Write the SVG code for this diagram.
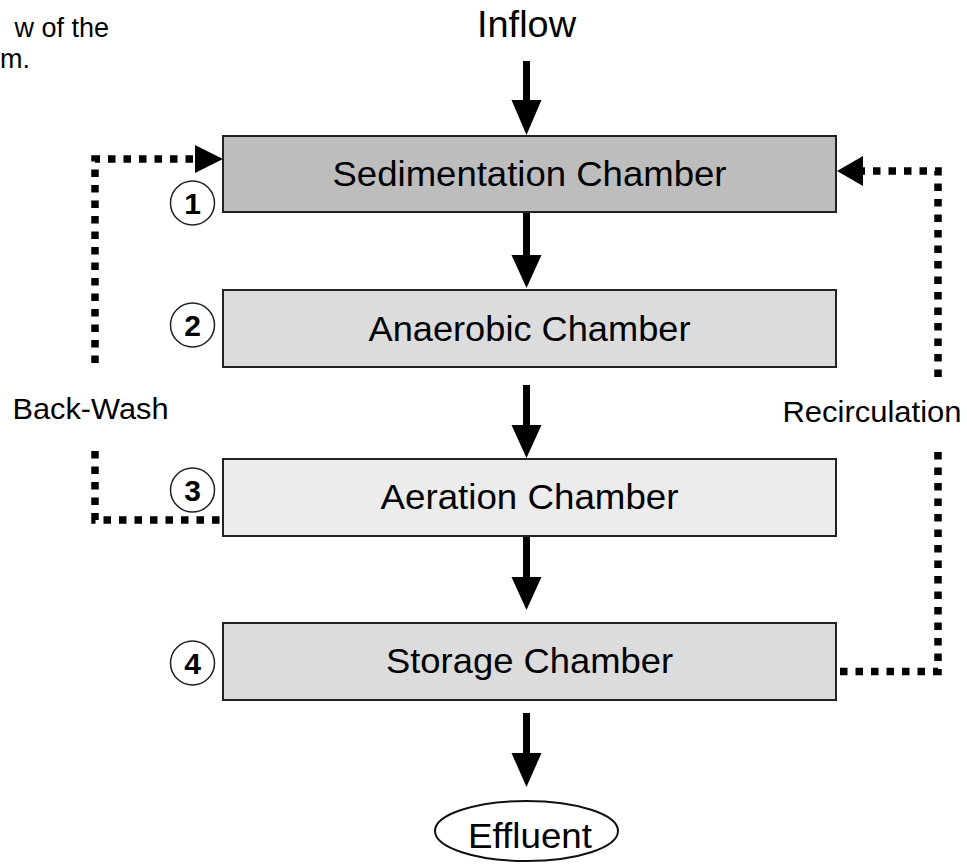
<svg xmlns="http://www.w3.org/2000/svg" width="967" height="867" viewBox="0 0 967 867">
<style>
  text { font-family: "Liberation Sans", Arial, sans-serif; fill: #000; }
  .box { stroke: #222; stroke-width: 2; }
  .lbl { font-size: 35px; text-anchor: middle; }
  .side { font-size: 30px; }
  .cap { font-size: 27px; }
  .num { font-size: 30px; font-weight: bold; text-anchor: middle; }
  .circ { fill: #fff; stroke: #222; stroke-width: 1.5; }
  .dot { fill: none; stroke: #000; stroke-width: 7.5; stroke-dasharray: 7.5 8; }
  .arr { fill: #000; }
</style>
<rect width="967" height="867" fill="#fff"/>

<text class="cap" x="109" y="37" text-anchor="end">w of the</text>
<text class="cap" x="0" y="68">m.</text>

<g id="inflow"><text x="526.5" y="37" font-size="36" text-anchor="middle" textLength="99" lengthAdjust="spacingAndGlyphs">Inflow</text></g>

<g id="sedimentation">
  <rect class="box" x="223" y="136" width="613" height="76" fill="#bdbdbd"/>
  <text class="lbl" x="529.5" y="185.5" textLength="394" lengthAdjust="spacingAndGlyphs">Sedimentation Chamber</text>
</g>
<g id="anaerobic">
  <rect class="box" x="223" y="290" width="613" height="77" fill="#dcdcdc"/>
  <text class="lbl" x="529.5" y="340.5" textLength="322" lengthAdjust="spacingAndGlyphs">Anaerobic Chamber</text>
</g>
<g id="aeration">
  <rect class="box" x="223" y="459" width="613" height="77" fill="#ececec"/>
  <text class="lbl" x="529.5" y="509" textLength="298" lengthAdjust="spacingAndGlyphs">Aeration Chamber</text>
</g>
<g id="storage">
  <rect class="box" x="223" y="623" width="613" height="77" fill="#dcdcdc"/>
  <text class="lbl" x="529.5" y="672.5" textLength="287" lengthAdjust="spacingAndGlyphs">Storage Chamber</text>
</g>
<g id="effluent">
  <ellipse cx="526.5" cy="831" rx="91.5" ry="30" fill="#fff" stroke="#111" stroke-width="2"/>
  <text x="530" y="848" font-size="35" text-anchor="middle" textLength="124" lengthAdjust="spacingAndGlyphs">Effluent</text>
</g>

<g id="markers">
  <circle class="circ" cx="192.5" cy="203" r="22"/><text class="num" x="192.5" y="214">1</text>
  <circle class="circ" cx="192.5" cy="325" r="22"/><text class="num" x="192.5" y="336">2</text>
  <circle class="circ" cx="192.5" cy="490" r="22"/><text class="num" x="192.5" y="501">3</text>
  <circle class="circ" cx="192.5" cy="663" r="22"/><text class="num" x="192.5" y="674">4</text>
</g>

<g id="labels">
  <text class="side" x="12.5" y="419" textLength="156" lengthAdjust="spacingAndGlyphs">Back-Wash</text>
  <text class="side" x="782.5" y="422" textLength="179" lengthAdjust="spacingAndGlyphs">Recirculation</text>
</g>

<g id="connectors">
  <path class="arr" d="M523 61 H530 V100 H541.5 L526.5 135 L511.5 100 H523 Z"/>
  <path class="arr" d="M523 213 H530 V255 H541.5 L526.5 288 L511.5 255 H523 Z"/>
  <path class="arr" d="M523 385 H530 V425 H541.5 L526.5 458 L511.5 425 H523 Z"/>
  <path class="arr" d="M523 537 H530 V577 H541.5 L526.5 610 L511.5 577 H523 Z"/>
  <path class="arr" d="M523 713 H530 V753 H541.5 L526.5 787 L511.5 753 H523 Z"/>

  <path class="dot" d="M95 363 V159 H196"/>
  <polygon class="arr" points="195,145 223,159 195,173"/>
  <path class="dot" d="M95 451 V520 H223"/>

  <path class="dot" d="M938 377 V171 H862"/>
  <polygon class="arr" points="863,156 837,171 863,186"/>
  <path class="dot" d="M938 452 V671.5 H837"/>
</g>
</svg>
